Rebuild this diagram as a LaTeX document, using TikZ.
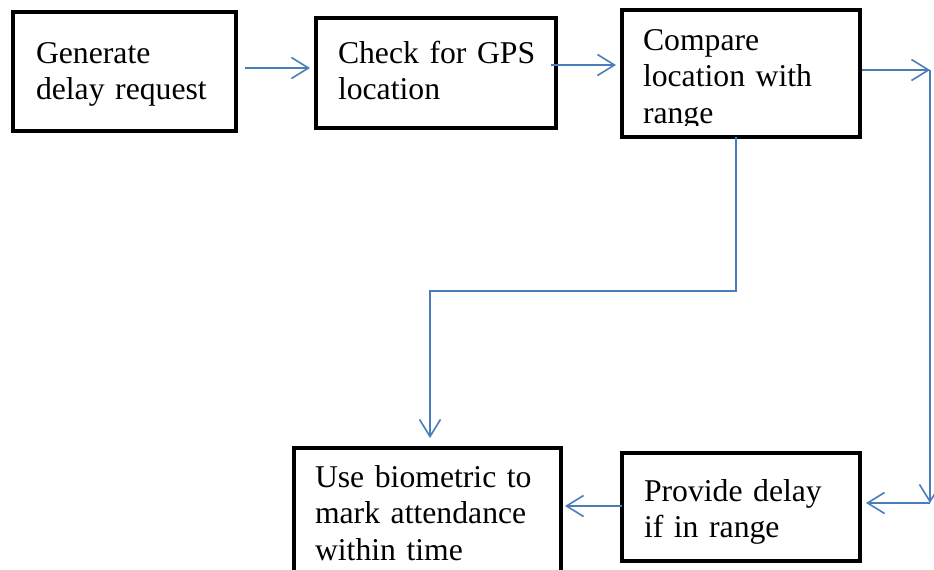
\documentclass[tikz,border=0pt]{standalone}
\usepackage{fontspec}
\setmainfont{Liberation Serif}
\usetikzlibrary{arrows.meta,calc}
\definecolor{connblue}{RGB}{74,126,187}
\tikzset{
  box/.style={draw=black, line width=4.5pt, fill=white, inner sep=0pt, outer sep=0pt, rectangle},
  txt/.style={inner sep=0pt, outer sep=0pt, text width=240pt, align=left,
    font=\fontsize{31.7}{36.5}\selectfont, anchor=base west},
  conn/.style={draw=connblue, line width=1.6pt},
  tip/.style={-{Straight Barb[length=17pt,width=21pt]}}
}
\begin{document}
\begin{tikzpicture}[x=1pt,y=-1pt]
\clip (0,0) rectangle (934,570);
\fill[white] (0,0) rectangle (934,570);
% boxes
\node[box, minimum width=223pt, minimum height=119pt] (b1) at (124.5,71.5) {};
\node[box, minimum width=240pt, minimum height=110pt] (b2) at (436,73) {};
\node[box, minimum width=238pt, minimum height=127pt] (b3) at (741,73.5) {};
\node[box, minimum width=238pt, minimum height=108pt] (b4) at (741,507) {};
\node[box, minimum width=267pt, minimum height=152pt] (b5) at (427.5,524) {};
% texts
\node[txt] (t1) at (36,63) {Generate\\delay request};
\node[txt] (t2) at (338,63) {Check for GPS\\location};
\begin{scope}
\clip (624,12) rectangle (858,125);
\node[txt] (t3) at (643,50) {Compare\\location with\\range};
\end{scope}
\node[txt] (t4) at (644,501) {Provide delay\\if in range};
\node[txt] (t5) at (315,487) {Use biometric to\\mark attendance\\within time};
% helper coordinates
\coordinate (c1) at (930,70);
\coordinate (c2) at (930,503);
\coordinate (c3) at (736,291);
\coordinate (c4) at (430,291);
% connectors
\draw[conn, tip] ($(b1.east)+(9,-3.5)$) -- ($(b2.west)+(-6,-5)$);
\draw[conn, tip] ($(b2.east)+(-5,-8)$) -- ($(b3.west)+(-6,-8.5)$);
\draw[conn, tip] ($(b3.east)+(2,-3.5)$) -- (c1);
\draw[conn, tip] (c1) -- (c2);
\draw[conn, tip] (c2) -- ($(b4.east)+(6,-4)$);
\draw[conn, tip] (b4.west |- 0,506) -- ($(b5.east)+(4,-18)$);
\draw[conn, tip] ($(b3.south)+(-5,0)$) -- (c3) -- (c4) -- ($(c4)+(0,147)$);
\end{tikzpicture}
\end{document}
